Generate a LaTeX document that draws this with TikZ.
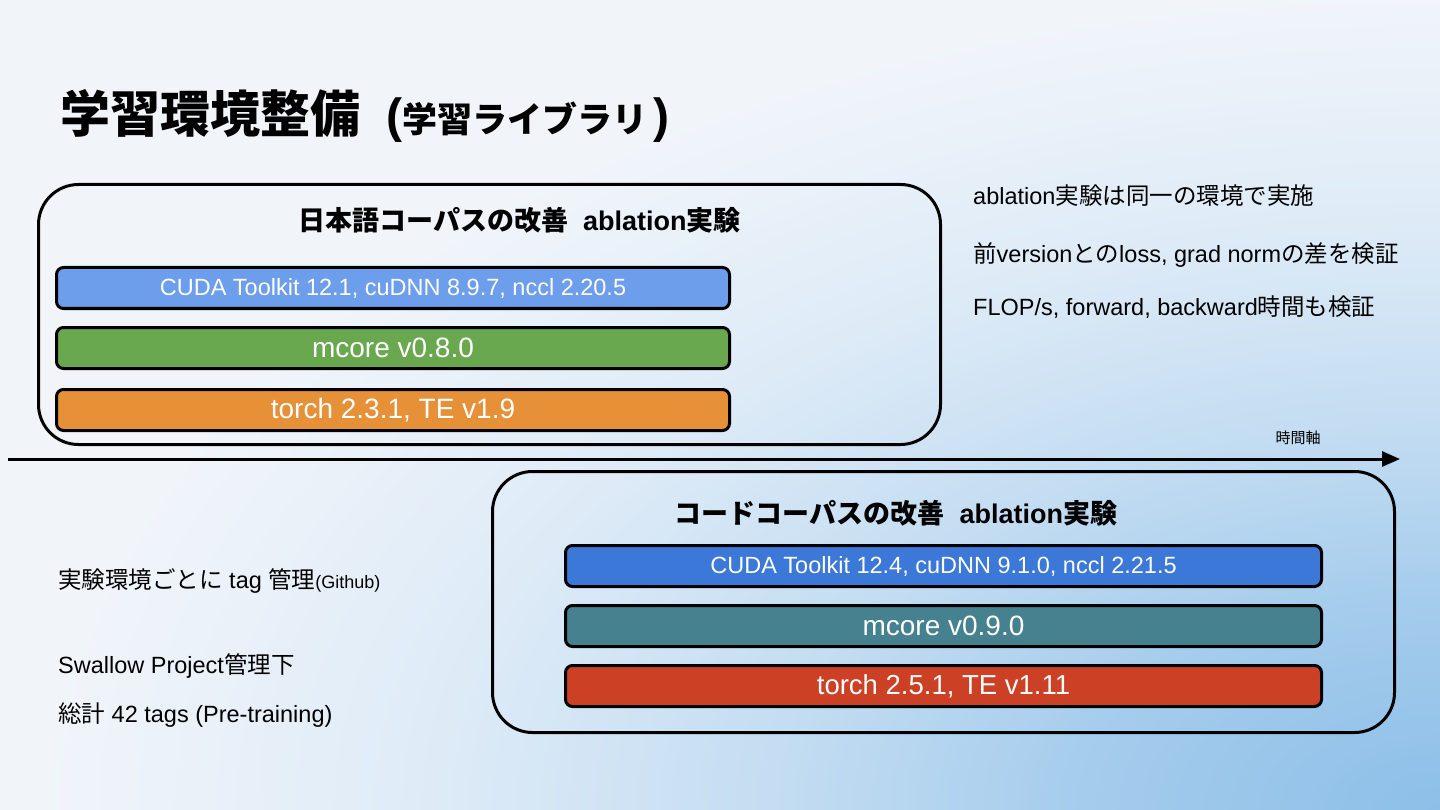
\documentclass[tikz,border=0pt]{standalone}
\usepackage{fontspec}
\setmainfont{Liberation Sans}
\newfontfamily\jp{Noto Sans CJK JP}
\usetikzlibrary{arrows.meta}
\newcommand\setfs[1]{\fontsize{#1pt}{#1pt}\selectfont}
\definecolor{bgA}{HTML}{F1F5FA}
\definecolor{bgB}{HTML}{8DBFE8}
\definecolor{bgC}{HTML}{A3CBEC}
\definecolor{bgD}{HTML}{C4DDF2}
\definecolor{bgE}{HTML}{DEEBF7}
\pgfdeclareradialshading{bgshade}{\pgfpoint{0bp}{0bp}}{color(0bp)=(bgB); color(6bp)=(bgC); color(12bp)=(bgD); color(18bp)=(bgE); color(25bp)=(bgA); color(50bp)=(bgA)}
\definecolor{cAa}{HTML}{6D9EEB}
\definecolor{cAb}{HTML}{6AA84F}
\definecolor{cAc}{HTML}{E69138}
\definecolor{cBa}{HTML}{3C78D8}
\definecolor{cBb}{HTML}{45818E}
\definecolor{cBc}{HTML}{CC4125}
\tikzset{
  panel/.style={draw=black, line width=3pt, rounded corners=40pt, inner sep=0pt},
  bar/.style={draw=black, line width=3pt, rounded corners=7pt, minimum height=41pt, text=white, inner sep=0pt},
  barA/.style={bar, minimum width=673pt},
  barB/.style={bar, minimum width=756pt},
  bartext/.style={font={\setfs{23.5}}},
  bigtext/.style={font={\setfs{28}}},
  boxtitle/.style={inner sep=0pt, font={\setfs{27}\bfseries}},
  body/.style={anchor=base west, inner sep=0pt, font={\setfs{23.5}}},
}
\begin{document}
\begin{tikzpicture}[x=1pt,y=-1pt]
\useasboundingbox (0,0) rectangle (1440,810);
\fill[bgA] (0,0) rectangle (1440,810);
\begin{scope}
  \clip (0,0) rectangle (1440,810);
  \shade[shading=bgshade] (1440,810) ellipse [x radius=1400, y radius=820];
\end{scope}

% title
\node[anchor=base west, inner sep=0pt] (title) at (60,133) {\setfs{50}\bfseries\jp 学習環境整備};
\node[anchor=base west, inner sep=0pt] (sub) at (386,133) {\bfseries\setfs{48}(\setfs{35}\jp 学習ライブラリ\,\rmfamily\setfs{48})};

% panel 1
\node[panel, minimum width=902pt, minimum height=260pt] (p1) at (489.5,314.5) {};
\node[boxtitle] (t1) at (519.5,220) {\jp 日本語コーパスの改善\rmfamily\ \ ablation\jp 実験};
\node[barA, fill=cAa, bartext] (a1) at (393,288) {CUDA Toolkit 12.1, cuDNN 8.9.7, nccl 2.20.5};
\node[barA, fill=cAb, bigtext] (a2) at (393,348) {mcore v0.8.0};
\node[barA, fill=cAc, bigtext] (a3) at (393,410) {torch 2.3.1, TE v1.9};

% right notes
\node[body] (n1) at (973,205) {ablation\jp 実験は同一の環境で実施};
\node[body] (n2) at (973,263) {\jp 前\rmfamily version\jp との\rmfamily loss, grad norm\jp の差を検証};
\node[body] (n3) at (973,316) {FLOP/s, forward, backward\jp 時間も検証};

% time axis
\coordinate (axs) at (8,459);
\coordinate (axe) at (1400,459);
\draw[line width=3pt, -{Triangle[length=18pt,width=15pt]}] (axs) -- (axe);
\node[inner sep=0pt, font={\setfs{15}\jp}] (ax) at (1298,438) {時間軸};

% panel 2
\node[panel, minimum width=902pt, minimum height=261pt] (p2) at (943.5,602) {};
\node[boxtitle] (t2) at (896,513) {\jp コードコーパスの改善\rmfamily\ \ ablation\jp 実験};
\node[barB, fill=cBa, bartext] (b1) at (943.5,566) {CUDA Toolkit 12.4, cuDNN 9.1.0, nccl 2.21.5};
\node[barB, fill=cBb, bigtext] (b2) at (943.5,626) {mcore v0.9.0};
\node[barB, fill=cBc, font={\setfs{27.5}}] (b3) at (943.5,686) {torch 2.5.1, TE v1.11};

% left notes
\node[body] (l1) at (58,588) {\jp 実験環境ごとに\rmfamily\ tag \jp 管理\rmfamily\setfs{18}(Github)};
\node[body] (l2) at (58,673) {Swallow Project\jp 管理下};
\node[body] (l3) at (58,722) {\jp 総計\rmfamily\ 42 tags (Pre-training)};
\end{tikzpicture}
\end{document}
